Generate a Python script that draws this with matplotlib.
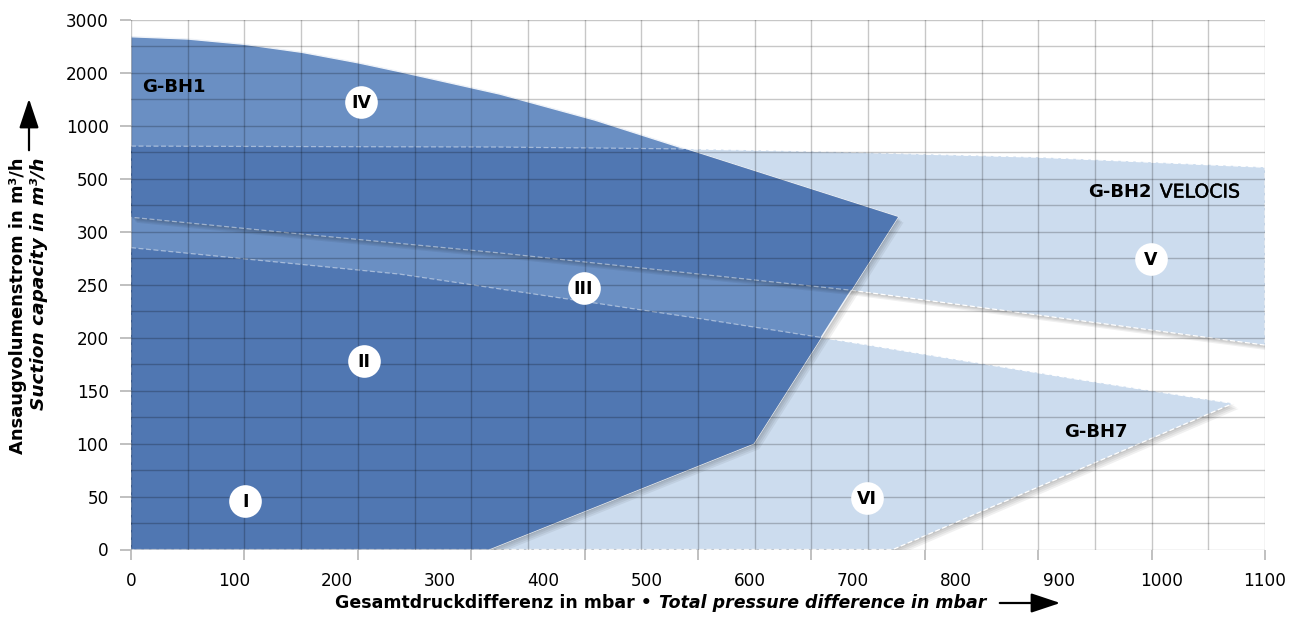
import numpy as np
import matplotlib
matplotlib.use("Agg")
import matplotlib.pyplot as plt
from matplotlib import patheffects as pe
from matplotlib.patches import FancyArrowPatch
from matplotlib.text import Annotation
from matplotlib.ticker import FixedLocator

plt.rcParams["font.family"] = ["DejaVu Sans"]

# axis values
x_labels = list(range(0, 1101, 100))
y_ticks = [0, 50, 100, 150, 200, 250, 300, 500, 1000, 2000, 3000]
y_minor = [25, 75, 125, 175, 225, 275, 400, 750, 1500, 2500]

# G-BH1 (outline, clockwise from origin)
bh1_x = [0, 0, 55, 110, 166, 220, 261, 358, 450, 744, 604, 347]
bh1_y = [0, 2684, 2641, 2541, 2389, 2193, 2023, 1600, 1110, 356, 100, 0]

# G-BH2 VELOCIS
bh2_x = [0, 358, 552, 697, 879, 1100, 1100, 697, 358, 164, 0]
bh2_y = [809, 800, 781, 752, 705, 610, 193, 245, 280, 298, 355]

# G-BH7
bh7_x = [0, 261, 358, 552, 697, 917, 1069, 739, 0]
bh7_y = [285, 260, 246, 218, 196, 161, 138, 0, 0]

# region markers
regions = ["I", "II", "III", "IV", "V", "VI"]
region_x = [111, 226, 439, 223, 989, 714]
region_y = [46, 178, 247, 1450, 274, 49]

LIGHT = "#ccdcee"
MEDIUM = "#6a8fc3"
DARK = "#5077b2"

W, H = 1301, 625


def fx(px):
    return px / W


def fy(py):
    return 1 - py / H


idx = np.arange(len(y_ticks), dtype=float)


def fwd(v):
    return np.interp(v, y_ticks, idx)


def inv(i):
    return np.interp(i, idx, y_ticks)


fig = plt.figure(figsize=(W / 100, H / 100), dpi=100)
ax = fig.add_axes([fx(131), fy(549.5), (1265 - 131) / W, (549.5 - 20) / H])
ax.set_yscale("function", functions=(fwd, inv))
ax.set_xlim(0, 1100)
ax.set_ylim(0, 3000)

# soft drop shadow: a few faint offset copies
shadow = [pe.SimplePatchShadow(offset=(o, -o), shadow_rgbFace="black", alpha=0.06)
          for o in (1, 2, 3, 4)] + [pe.Normal()]

p2 = ax.fill(bh2_x, bh2_y, facecolor=LIGHT, edgecolor="white", lw=0.9,
             linestyle=(0, (4, 2)), path_effects=shadow, zorder=1)[0]
p7 = ax.fill(bh7_x, bh7_y, facecolor=LIGHT, edgecolor="white", lw=0.9,
             linestyle=(0, (4, 2)), path_effects=shadow, zorder=1)[0]
p1 = ax.fill(bh1_x, bh1_y, facecolor=MEDIUM, edgecolor="#eef2f8", lw=1.0,
             path_effects=shadow, zorder=1.1)[0]

# overlap of G-BH1 with the other two ranges is drawn darker
for xs, ys in [(bh2_x, bh2_y), (bh7_x, bh7_y)]:
    ov = ax.fill(xs, ys, facecolor=DARK, edgecolor=(1, 1, 1, 0.45), lw=0.9,
                 linestyle=(0, (4, 2)), path_effects=shadow, zorder=1.2)[0]
    ov.set_clip_path(p1)

# ticks and grid (grid every 55 mbar, tick marks every 110, labels every 100)
ax.set_xticks(np.arange(0, 1101, 110))
ax.xaxis.set_minor_locator(FixedLocator(np.arange(0, 1101, 55)))
ax.tick_params(axis="x", which="major", length=7, width=1.2, color="#b5b5b5",
               labelbottom=False)
ax.tick_params(axis="x", which="minor", length=0)
ax.set_yticks(y_ticks)
ax.set_yticklabels([str(v) for v in y_ticks])
ax.yaxis.set_minor_locator(FixedLocator(y_minor))
ax.tick_params(axis="y", which="major", length=8, width=1.2, color="#b5b5b5",
               pad=8, labelsize=12.2)
ax.tick_params(axis="y", which="minor", length=0)
ax.set_axisbelow(False)
ax.grid(which="both", color="black", alpha=0.22, lw=1.0)
for s in ax.spines.values():
    s.set_visible(False)

sec = ax.secondary_xaxis("bottom")
sec.set_xticks(x_labels)
sec.set_xticklabels([str(v) for v in x_labels])
sec.tick_params(length=0, pad=16, labelsize=12.2)
sec.spines["bottom"].set_visible(False)

# region markers
ax.plot(region_x, region_y, "o", ms=23.5, mfc="white", mec="none", zorder=4)
for lab, x, y in zip(regions, region_x, region_y):
    ax.annotate(lab, (x, y), xytext=(0, -0.8), textcoords="offset points",
                ha="center", va="center", fontsize=12.5, fontweight="bold", zorder=5)

ax.text(10.7, 1730, "G-BH1", ha="left", va="center", fontsize=13,
        fontweight="bold", zorder=5)
velocis = ax.text(1075.6, 450, "VELOCIS", ha="right", va="center", fontsize=13.6,
                  zorder=5,
                  path_effects=[pe.withStroke(linewidth=0.3, foreground="black")])
ax.annotate("G-BH2", xy=(0, 0.5), xycoords=velocis, xytext=(-6, 0),
            textcoords="offset points", ha="right", va="center", fontsize=13,
            fontweight="bold", zorder=5)
ax.text(935.5, 111, "G-BH7", ha="center", va="center", fontsize=13,
        fontweight="bold", zorder=5)

# axis titles
xl = fig.text(fx(335), fy(603), "Gesamtdruckdifferenz in mbar \u2022", ha="left",
              va="center", fontsize=12.5, fontweight="bold")
fig.add_artist(Annotation(
    "Total pressure difference in mbar", xy=(1, 0.5), xycoords=xl,
    xytext=(5, 0), textcoords="offset points", ha="left", va="center",
    fontsize=12.5, fontweight="bold", style="italic"))
fig.text(fx(18), fy(158), "Ansaugvolumenstrom in m\u00b3/h", rotation=90,
         ha="center", va="top", fontsize=12.9, fontweight="bold")
fig.text(fx(39), fy(158), "Suction capacity in m\u00b3/h", rotation=90,
         ha="center", va="top", fontsize=13.3, fontweight="bold", style="italic")

arrow_style = "-|>,head_length=0.9,head_width=0.3"
fig.add_artist(FancyArrowPatch((fx(997), fy(603)), (fx(1063), fy(603)),
                               transform=fig.transFigure, arrowstyle=arrow_style,
                               mutation_scale=20, lw=1.6, color="black"))
fig.add_artist(FancyArrowPatch((fx(29), fy(153)), (fx(29), fy(96)),
                               transform=fig.transFigure, arrowstyle=arrow_style,
                               mutation_scale=20, lw=1.6, color="black"))

fig.savefig("out.png", dpi=100)
